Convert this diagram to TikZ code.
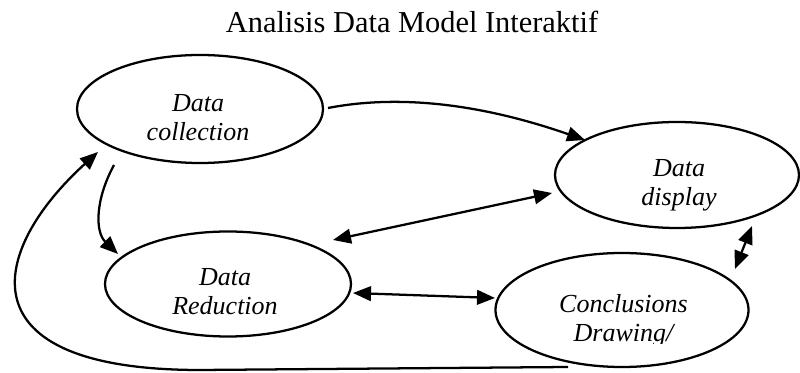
\documentclass[tikz,border=0pt]{standalone}
\usepackage{fontspec}
\setmainfont{Liberation Serif}
\usetikzlibrary{shapes.geometric,arrows.meta,calc}
\begin{document}
\begin{tikzpicture}[x=0.75pt,y=-0.75pt,
  bubble/.style={draw, ellipse, line width=1.7pt, inner sep=0pt, outer sep=0pt},
  lbl/.style={font=\itshape\fontsize{19.5}{21.5}\selectfont, align=center, inner sep=0pt},
  conn/.style={line width=1.7pt, -{Triangle[length=13.5pt,width=11pt]}},
  biconn/.style={line width=1.7pt, {Triangle[length=13.5pt,width=11pt]}-{Triangle[length=13.5pt,width=11pt]}}]
\useasboundingbox (0,0) rectangle (800,373);
% title
\node[anchor=base, inner sep=0pt, font=\fontsize{22.8}{27}\selectfont] (title) at (412,33) {Analisis Data Model Interaktif};
% ellipses
\node[bubble, minimum width=184.5pt, minimum height=81pt] (coll) at (200,109) {};
\node[bubble, minimum width=184.5pt, minimum height=78.75pt] (red) at (228,284) {};
\node[bubble, minimum width=183pt, minimum height=79.5pt] (disp) at (677,175) {};
\node[bubble, minimum width=189.75pt, minimum height=85.5pt] (conc) at (622,310) {};
% labels
\node[lbl] (tcoll) at (198,117.5) {Data\\collection};
\node[lbl] (tred) at (225,291.5) {Data\\Reduction};
\node[lbl] (tdisp) at (679,185) {Data\\display};
\begin{scope}
\clip (0,0) rectangle (800,344);
\node[lbl] (tconc) at (623.5,321) {Conclusions\\Drawing/};
\end{scope}
% connectors
\draw[conn] ($(coll.east)+(5,-1)$) .. controls (390,96) and (470,100) .. ($(disp.center)+(-92,-35)$);
\draw[conn] ($(coll.center)+(-86,56)$) .. controls (95,200) and (95,232) .. ($(red.center)+(-110,-30)$);
\draw[biconn] ($(red.center)+(105,-44)$) -- ($(disp.center)+(-125,18)$);
\draw[biconn] ($(red.center)+(125,9)$) -- ($(conc.center)+(-127,-12)$);
\draw[biconn] ($(conc.center)+(113,-41)$) -- ($(disp.center)+(75,51)$);
\draw[conn] ($(conc.center)+(-54,57)$) -- (200,370) .. controls (-40,370) and (-10,250) .. ($(coll.center)+(-102,43)$);
\end{tikzpicture}
\end{document}
